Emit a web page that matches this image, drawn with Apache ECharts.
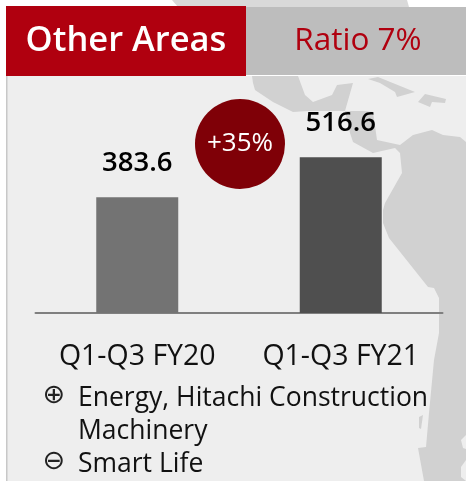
<!DOCTYPE html>
<html><head><meta charset="utf-8">
<style>html,body{margin:0;padding:0;background:#fff}#c{width:466px;height:481px}</style>
<script src="https://cdn.jsdelivr.net/npm/echarts@6/dist/echarts.min.js"></script>
</head><body><div id="c"></div>
<script>
const categories = ['Q1-Q3 FY20', 'Q1-Q3 FY21'];
const values = [383.6, 516.6];
const barColors = ['#737373', '#4f4f4f'];
const headerTitle = 'Other Areas';
const headerRatio = 'Ratio 7%';
const growth = '+35%';
const legendLines = [
  ['\u2295', 'Energy, Hitachi Construction', 398],
  ['', 'Machinery', 431],
  ['\u2296', 'Smart Life', 464]
];
const FONT = '"Open Sans","Noto Sans",sans-serif';
const land = '#d1d1d1';
const poly = (points, fill, z) => ({type:'polygon', z, silent:true, shape:{points}, style:{fill}});
const mapShapes = [
  [[252,76],[253,83],[255,90],[273,102],[293,112],[308,111],[345,111],[353,83],[337,85],[332,95],[313,102],[305,95],[298,76]],
  [[345,111],[363,111],[373,112],[377,140],[400,145],[413,135],[432,130],[443,135],[460,137],[466,142],[466,481],[424,481],[418,448],[426,447],[429,413],[434,360],[439,333],[439,298],[434,288],[428,287],[389,238],[383,223],[383,210],[385,203],[402,173],[400,153],[395,148],[373,153],[353,142],[350,133]],
  [[368,79],[378,77],[415,92],[397,97],[395,92],[380,83]],
  [[425,94],[446,99],[445,103],[432,102],[430,107],[418,102]],
  [[419,417],[423,415],[421,429],[419,428]]
];
const cutouts = [
  [[466,435],[461,440],[463,448],[466,449]],
  [[466,460],[461,467],[461,477],[466,481]]
];
const graphic = [
  poly([[172,0],[407,0],[409,7],[178,7]], '#d9d9d9', -20),
  {type:'rect', z:-19, silent:true, shape:{x:6,y:76,width:460,height:405}, style:{fill:'#eeeeee'}},
  {type:'rect', z:-18, silent:true, shape:{x:6,y:76,width:1.5,height:405}, style:{fill:'#c8c8c8'}},
  ...mapShapes.map(p => poly(p, land, -17)),
  ...cutouts.map(p => poly(p, '#eeeeee', -16)),
  {type:'rect', z:-15, silent:true, shape:{x:246,y:7,width:220,height:68}, style:{fill:'#bdbdbd'}},
  {type:'rect', z:-14, silent:true, shape:{x:6,y:6,width:240,height:70}, style:{fill:'#b0000f'}},
  {type:'text', z:50, style:{x:126,y:41,text:headerTitle,fill:'#fff',font:'600 34.5px '+FONT,textAlign:'center',textVerticalAlign:'middle'}},
  {type:'text', z:50, style:{x:358,y:41,text:headerRatio,fill:'#b0000f',font:'500 31.5px '+FONT,textAlign:'center',textVerticalAlign:'middle'}},
  {type:'circle', z:50, silent:true, shape:{cx:240,cy:144,r:45}, style:{fill:'#7f0007'}},
  {type:'text', z:51, style:{x:240,y:144,text:growth,fill:'#fff',font:'500 26px '+FONT,textAlign:'center',textVerticalAlign:'middle'}}
];
legendLines.forEach(([mark, txt, y]) => {
  if (mark) graphic.push({type:'text', z:50, style:{x:54,y:y-2,text:mark,fill:'#222',font:'27px "DejaVu Sans"',textAlign:'center',textVerticalAlign:'middle'}});
  graphic.push({type:'text', z:50, style:{x:78,y,text:txt,fill:'#111',font:'26.5px '+FONT,textAlign:'left',textVerticalAlign:'middle'}});
});
const chart = echarts.init(document.getElementById('c'), null, {renderer:'canvas'});
chart.setOption({
  animation:false,
  backgroundColor:'#fff',
  grid:{left:35.5, right:23.5, top:132, bottom:168},
  xAxis:{type:'category', data:categories,
    axisLine:{lineStyle:{color:'#7f7f7f',width:2}}, axisTick:{show:false},
    axisLabel:{color:'#111',fontSize:28.5,fontFamily:FONT,margin:29,interval:0,hideOverlap:false}},
  yAxis:{type:'value',min:0,max:600,show:false,splitLine:{show:false}},
  series:[{type:'bar',barWidth:82,
    data:values.map((v,i)=>({value:v,itemStyle:{color:barColors[i]}})),
    label:{show:true,position:'top',distance:20,color:'#000',fontSize:27.5,fontWeight:600,fontFamily:FONT,formatter:p=>p.value.toFixed(1)}}],
  graphic
});
</script></body></html>
